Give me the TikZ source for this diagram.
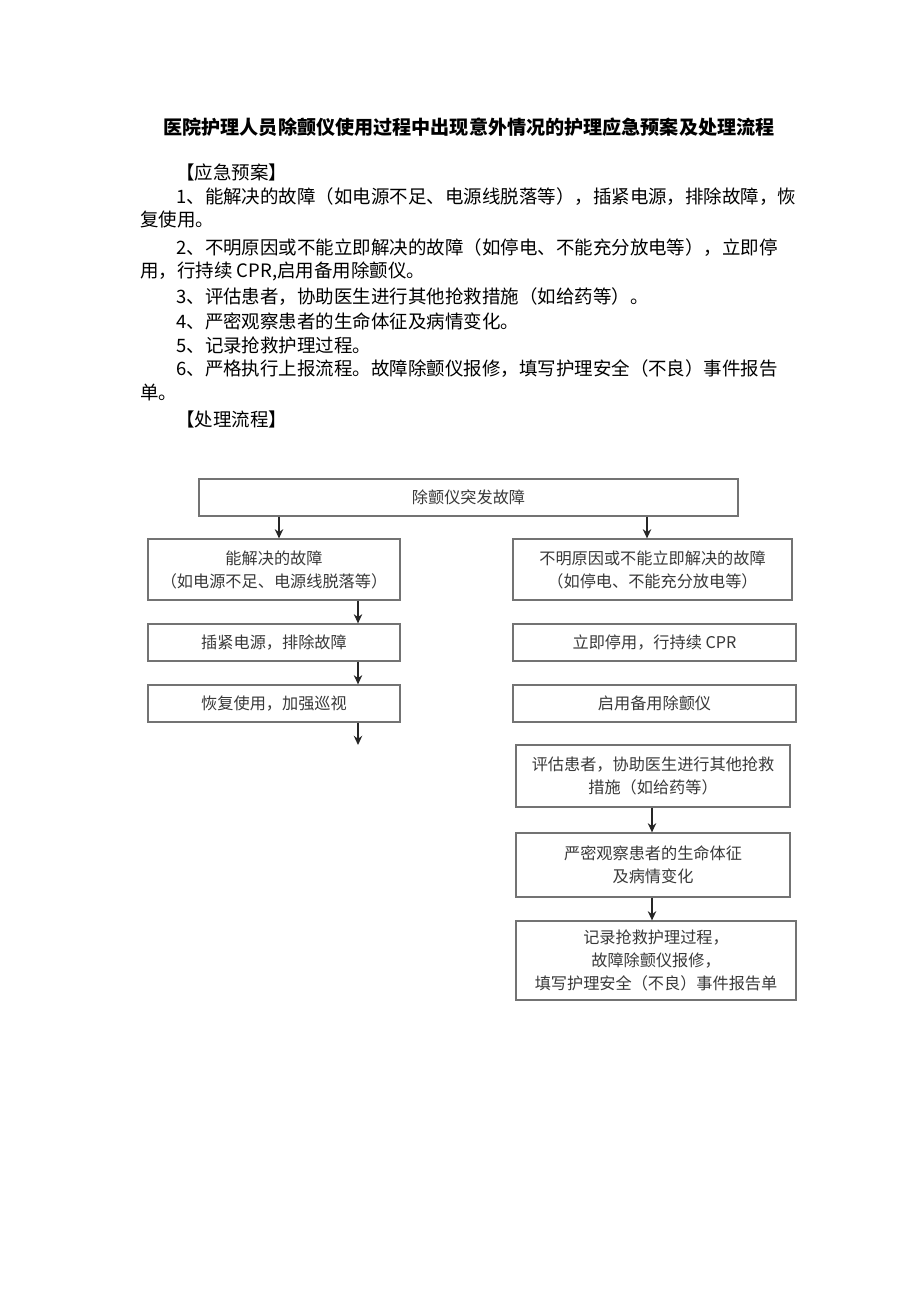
\documentclass[tikz,border=0pt]{standalone}
\usepackage{fontspec}
\setmainfont{Noto Sans CJK SC}
\usetikzlibrary{arrows.meta,positioning}
\definecolor{boxline}{gray}{0.45}
\definecolor{flowtext}{gray}{0.22}

\begin{document}
\begin{tikzpicture}[x=0.22826mm,y=-0.22826mm,
 body/.style={anchor=west,inner sep=0pt,font=\fontsize{12}{14}\selectfont},
 box/.style={draw=boxline,line width=0.8pt,inner sep=0pt,align=center,text=flowtext,
             font=\fontsize{10.5}{15}\selectfont},
 arr/.style={-{Stealth[length=6pt,width=5.5pt]},line width=0.9pt,black!85}]
 \useasboundingbox (0,0) rectangle (920,1301);
 \node[inner sep=0pt,font=\fontsize{12.4}{14}\selectfont\bfseries] (title) at (469,127)
   {医院护理人员除颤仪使用过程中出现意外情况的护理应急预案及处理流程};
 \node[body] (plan) at (176,172) {【应急预案】};
 \node[body] (p1a) at (176,197) {1、能解决的故障（如电源不足、电源线脱落等），插紧电源，排除故障，恢};
 \node[body] (p1b) at (140,220) {复使用。};
 \node[body] (p2a) at (176,248) {2、不明原因或不能立即解决的故障（如停电、不能充分放电等），立即停};
 \node[body] (p2b) at (140,271) {用，行持续 CPR,启用备用除颤仪。};
 \node[body] (p3) at (176,297) {3、评估患者，协助医生进行其他抢救措施（如给药等）。};
 \node[body] (p4) at (176,321) {4、严密观察患者的生命体征及病情变化。};
 \node[body] (p5) at (176,345) {5、记录抢救护理过程。};
 \node[body] (p6a) at (176,369) {6、严格执行上报流程。故障除颤仪报修，填写护理安全（不良）事件报告};
 \node[body] (p6b) at (140,393) {单。};
 \node[body] (flow) at (176,419) {【处理流程】};

 \node[box,minimum width=12.30cm,minimum height=0.845cm] (fault) at (468.5,497.5) {除颤仪突发故障};
 \node[box,minimum width=5.752cm,minimum height=1.392cm] (lfix) at (274,569.5)
   {能解决的故障\\（如电源不足、电源线脱落等）};
 \node[box,minimum width=5.752cm,minimum height=0.845cm] (lplug) at (274,642.5) {插紧电源，排除故障};
 \node[box,minimum width=5.752cm,minimum height=0.845cm] (lresume) at (274,703.5) {恢复使用，加强巡视};
 \node[box,minimum width=6.369cm,minimum height=1.392cm] (runk) at (652.5,569.5)
   {不明原因或不能立即解决的故障\\（如停电、不能充分放电等）};
 \node[box,minimum width=6.460cm,minimum height=0.845cm] (rstop) at (654.5,642.5) {立即停用，行持续 CPR};
 \node[box,minimum width=6.460cm,minimum height=0.845cm] (rspare) at (654.5,703.5) {启用备用除颤仪};
 \node[box,minimum width=6.254cm,minimum height=1.415cm] (rassess) at (653,776)
   {评估患者，协助医生进行其他抢救\\措施（如给药等）};
 \node[box,minimum width=6.254cm,minimum height=1.461cm] (robserve) at (653,865)
   {严密观察患者的生命体征\\及病情变化};
 \node[box,minimum width=6.391cm,minimum height=1.803cm] (rrecord) at (656,960.5)
   {记录抢救护理过程，\\故障除颤仪报修，\\填写护理安全（不良）事件报告单};
 \coordinate (lend) at (358,745);

 \draw[arr] (279,0 |- fault.south) -- (279,0 |- lfix.north);
 \draw[arr] (647,0 |- fault.south) -- (647,0 |- runk.north);
 \draw[arr] (358,0 |- lfix.south) -- (358,0 |- lplug.north);
 \draw[arr] (358,0 |- lplug.south) -- (358,0 |- lresume.north);
 \draw[arr] (358,0 |- lresume.south) -- (lend);
 \draw[arr] (652,0 |- rassess.south) -- (652,0 |- robserve.north);
 \draw[arr] (652,0 |- robserve.south) -- (652,0 |- rrecord.north);
\end{tikzpicture}
\end{document}
